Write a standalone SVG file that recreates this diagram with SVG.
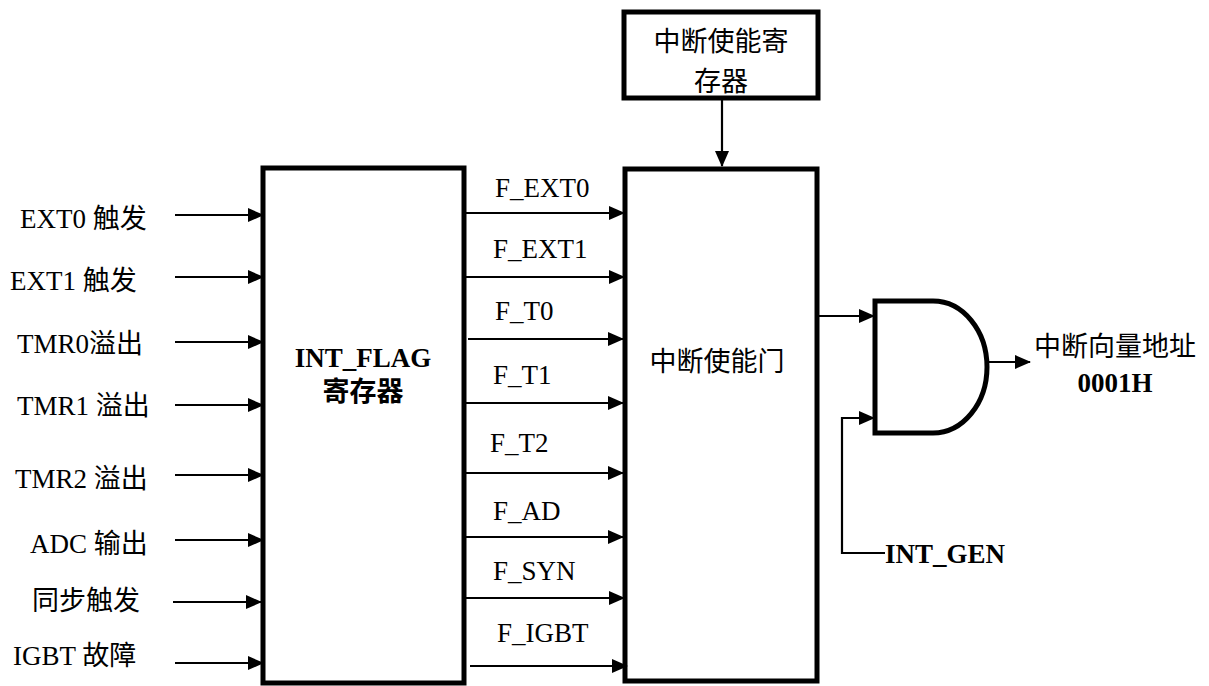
<svg xmlns="http://www.w3.org/2000/svg" width="1209" height="686" viewBox="0 0 1209 686">
<style>
.box{fill:#fff;stroke:#000;stroke-width:5}
.ln{fill:none;stroke:#000;stroke-width:2.2}
.lbl{font-family:"Liberation Serif","Noto Sans CJK SC",serif;font-size:27px;fill:#000}
.b{font-weight:bold}
.cjk{font-family:"Noto Sans CJK SC",sans-serif;font-size:27px;fill:#000}
</style>
<defs>
<marker id="ah" markerUnits="userSpaceOnUse" markerWidth="16" markerHeight="14" refX="15" refY="7" orient="auto">
<path d="M0,0 L16,7 L0,14 Z" fill="#000"/>
</marker>
</defs>
<rect width="1209" height="686" fill="#fff"/>
<g id="enable-register">
<rect class="box" x="624" y="12" width="194" height="86"/>
<text class="cjk" x="721" y="51" text-anchor="middle">中断使能寄</text>
<text class="cjk" x="721" y="91" text-anchor="middle">存器</text>
</g>
<g id="int-flag">
<rect class="box" x="263" y="168" width="201" height="515"/>
<text class="lbl b" x="363" y="367" text-anchor="middle">INT_FLAG</text>
<text class="cjk" x="363" y="401" text-anchor="middle" font-weight="bold">寄存器</text>
</g>
<g id="enable-gate">
<rect class="box" x="625" y="169" width="192" height="512"/>
<text class="cjk" x="717" y="371" text-anchor="middle">中断使能门</text>
</g>
<g id="and-gate">
<path class="box" d="M875,301 H933 A54,66 0 0 1 933,433 H875 Z"/>
</g>
<g id="inputs">
<text class="lbl" x="20" y="228">EXT0 触发</text>
<text class="lbl" x="10" y="290">EXT1 触发</text>
<text class="lbl" x="17" y="353">TMR0溢出</text>
<text class="lbl" x="17" y="415">TMR1 溢出</text>
<text class="lbl" x="15" y="488">TMR2 溢出</text>
<text class="lbl" x="30" y="553">ADC 输出</text>
<text class="lbl" x="32" y="610">同步触发</text>
<text class="lbl" x="13" y="665">IGBT 故障</text>
</g>
<g id="flag-labels">
<text class="lbl" x="495" y="197">F_EXT0</text>
<text class="lbl" x="493" y="258">F_EXT1</text>
<text class="lbl" x="495" y="320">F_T0</text>
<text class="lbl" x="493" y="384">F_T1</text>
<text class="lbl" x="490" y="452">F_T2</text>
<text class="lbl" x="493" y="520">F_AD</text>
<text class="lbl" x="493" y="580">F_SYN</text>
<text class="lbl" x="497" y="642">F_IGBT</text>
</g>
<g id="outputs">
<text class="cjk" x="1115" y="356" text-anchor="middle">中断向量地址</text>
<text class="lbl b" x="1115" y="392" text-anchor="middle">0001H</text>
<text class="lbl b" x="885" y="563">INT_GEN</text>
</g>
<g id="connectors">
<line class="ln" x1="175" y1="215" x2="263" y2="215" marker-end="url(#ah)"/>
<line class="ln" x1="175" y1="277" x2="263" y2="277" marker-end="url(#ah)"/>
<line class="ln" x1="175" y1="342" x2="263" y2="342" marker-end="url(#ah)"/>
<line class="ln" x1="175" y1="405" x2="263" y2="405" marker-end="url(#ah)"/>
<line class="ln" x1="175" y1="475" x2="263" y2="475" marker-end="url(#ah)"/>
<line class="ln" x1="175" y1="540" x2="263" y2="540" marker-end="url(#ah)"/>
<line class="ln" x1="173" y1="602" x2="261" y2="602" marker-end="url(#ah)"/>
<line class="ln" x1="175" y1="663" x2="263" y2="663" marker-end="url(#ah)"/>
<line class="ln" x1="464" y1="213" x2="624" y2="213" marker-end="url(#ah)"/>
<line class="ln" x1="462" y1="277" x2="624" y2="277" marker-end="url(#ah)"/>
<line class="ln" x1="468" y1="339" x2="623" y2="339" marker-end="url(#ah)"/>
<line class="ln" x1="464" y1="403" x2="623" y2="403" marker-end="url(#ah)"/>
<line class="ln" x1="464" y1="473" x2="623" y2="473" marker-end="url(#ah)"/>
<line class="ln" x1="464" y1="537" x2="623" y2="537" marker-end="url(#ah)"/>
<line class="ln" x1="464" y1="598" x2="624" y2="598" marker-end="url(#ah)"/>
<line class="ln" x1="470" y1="666" x2="627" y2="666" marker-end="url(#ah)"/>
<line class="ln" x1="722" y1="98" x2="722" y2="166" marker-end="url(#ah)"/>
<line class="ln" x1="815" y1="316" x2="874" y2="316" marker-end="url(#ah)"/>
<polyline class="ln" points="885,553 842,553 842,418 874,418" marker-end="url(#ah)"/>
<line class="ln" x1="987" y1="362" x2="1030" y2="362" marker-end="url(#ah)"/>
</g>
</svg>
